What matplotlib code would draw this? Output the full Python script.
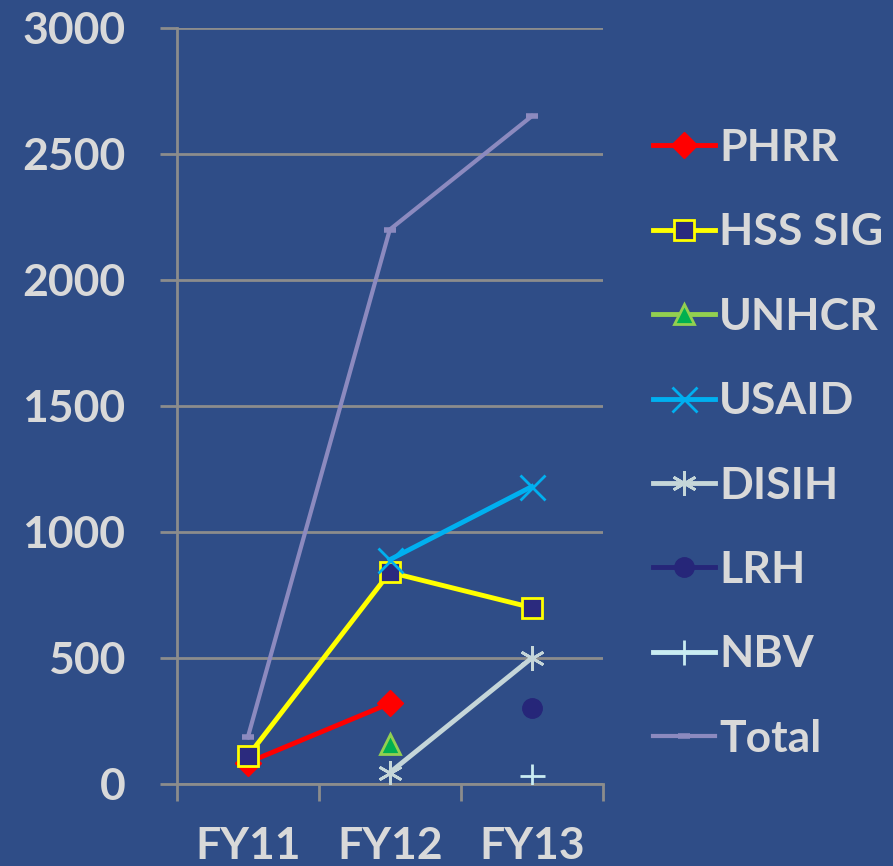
import numpy as np
import matplotlib.pyplot as plt
from matplotlib.ticker import FixedLocator

years = ["FY11", "FY12", "FY13"]
nan = np.nan
phrr = [85, 320, nan]
hss_sig = [110, 840, 700]
unhcr = [nan, 160, nan]
usaid = [nan, 890, 1180]
disih = [nan, 45, 500]
lrh = [nan, nan, 300]
nbv = [nan, nan, 30]
total = [185, 2200, 2650]

BG = "#2F4D87"
TXT = "#D9D9D9"
GRID = "#8C8C8C"

plt.rcParams["font.family"] = ["Lato", "DejaVu Sans"]
plt.rcParams["font.weight"] = "bold"

fig = plt.figure(figsize=(8.93, 8.66), dpi=100, facecolor=BG)
ax = fig.add_axes([0.198, 0.0947, 0.477, 0.873])
ax.set_facecolor(BG)

x = np.arange(len(years))

ax.plot(x, phrr, color="#FF0000", lw=3.5, marker="D", ms=13, mfc="#FF0000",
        mec="#FF0000", label="PHRR", zorder=3)
ax.plot(x, hss_sig, color="#FFFF00", lw=3.5, marker="s", ms=14, mfc="#2B2A7E",
        mec="#FFFF00", mew=2, label="HSS SIG", zorder=4)
ax.plot(x, unhcr, color="#92D050", lw=3.5, marker="^", ms=15, mfc="#00B050",
        mec="#92D050", mew=2, label="UNHCR", zorder=4)
ax.plot(x, usaid, color="#00B0F0", lw=3.5, marker="x", ms=18, mew=2,
        label="USAID", zorder=5)
ax.plot(x, disih, color="#C5D6D9", lw=3.5, marker=(6, 2, 0), ms=18, mew=2,
        label="DISIH", zorder=4)
ax.plot(x, lrh, color="#262679", lw=3.5, marker="o", ms=14,
        label="LRH", zorder=4)
ax.plot(x, nbv, color="#C9ECF2", lw=3.5, marker="+", ms=18, mew=2,
        label="NBV", zorder=4)
ax.plot(x, total, color="#8C8ABF", lw=3, marker="_", ms=8, mew=4,
        label="Total", zorder=2)

ax.set_xlim(-0.5, 2.5)
ax.set_ylim(0, 3000)
ax.set_yticks(range(0, 3001, 500))
ax.yaxis.grid(True, color=GRID, lw=2)
ax.set_axisbelow(True)

ax.set_xticks(x)
ax.set_xticklabels(years)
ax.xaxis.set_minor_locator(FixedLocator([-0.5, 0.5, 1.5, 2.5]))
ax.tick_params(axis="x", which="major", length=0, pad=30, labelsize=32,
               labelcolor=TXT)
ax.tick_params(axis="x", which="minor", length=12, width=2, color=GRID,
               direction="out")
ax.tick_params(axis="y", length=12, width=2, color=GRID, pad=25, labelsize=32,
               labelcolor=TXT)

for s in ["top", "right"]:
    ax.spines[s].set_visible(False)
for s in ["left", "bottom"]:
    ax.spines[s].set_color(GRID)
    ax.spines[s].set_linewidth(2)

leg = fig.legend(loc="upper left", bbox_to_anchor=(0.711, 0.873), frameon=False,
                 fontsize=32, handlelength=1.4, handletextpad=0.1,
                 labelspacing=1.0, borderaxespad=0)
for t in leg.get_texts():
    t.set_color(TXT)

fig.savefig("out.png", dpi=100, facecolor=BG)
